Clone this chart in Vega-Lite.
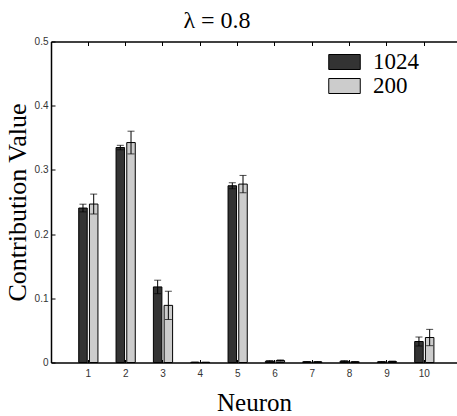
{
  "$schema": "https://vega.github.io/schema/vega-lite/v6.json",
  "autosize": {"type": "none"},
  "padding": {"left": 51, "top": 41.5, "right": 0, "bottom": 53.5},
  "width": 406,
  "height": 321,
  "title": {"text": "λ = 0.8", "font": "Liberation Serif", "fontSize": 24, "fontWeight": "normal", "color": "#000", "anchor": "middle", "dx": -37, "offset": 4},
  "data": {"values": [
    {"neuron": 1, "n": "1024", "value": 0.2406, "lo": 0.2346, "hi": 0.2466},
    {"neuron": 1, "n": "200", "value": 0.2468, "lo": 0.2313, "hi": 0.2623},
    {"neuron": 2, "n": "1024", "value": 0.3348, "lo": 0.3313, "hi": 0.3383},
    {"neuron": 2, "n": "200", "value": 0.3426, "lo": 0.3249, "hi": 0.3603},
    {"neuron": 3, "n": "1024", "value": 0.1177, "lo": 0.1072, "hi": 0.1282},
    {"neuron": 3, "n": "200", "value": 0.089, "lo": 0.067, "hi": 0.111},
    {"neuron": 4, "n": "1024", "value": 0.0003, "lo": 0.0, "hi": 0.0006},
    {"neuron": 4, "n": "200", "value": 0.0002, "lo": 0.0, "hi": 0.0004},
    {"neuron": 5, "n": "1024", "value": 0.2753, "lo": 0.2706, "hi": 0.28},
    {"neuron": 5, "n": "200", "value": 0.2779, "lo": 0.2644, "hi": 0.2914},
    {"neuron": 6, "n": "1024", "value": 0.002, "lo": 0.001, "hi": 0.003},
    {"neuron": 6, "n": "200", "value": 0.003, "lo": 0.002, "hi": 0.004},
    {"neuron": 7, "n": "1024", "value": 0.001, "lo": 0.0005, "hi": 0.0015},
    {"neuron": 7, "n": "200", "value": 0.001, "lo": 0.0005, "hi": 0.0015},
    {"neuron": 8, "n": "1024", "value": 0.002, "lo": 0.0012, "hi": 0.0028},
    {"neuron": 8, "n": "200", "value": 0.001, "lo": 0.0005, "hi": 0.0015},
    {"neuron": 9, "n": "1024", "value": 0.001, "lo": 0.0005, "hi": 0.0015},
    {"neuron": 9, "n": "200", "value": 0.0015, "lo": 0.0008, "hi": 0.0022},
    {"neuron": 10, "n": "1024", "value": 0.0327, "lo": 0.0257, "hi": 0.0397},
    {"neuron": 10, "n": "200", "value": 0.0389, "lo": 0.0262, "hi": 0.0516}
  ]},
  "layer": [
    {
      "mark": {"type": "bar", "stroke": "#000", "strokeWidth": 1},
      "encoding": {
        "x": {"field": "neuron", "type": "ordinal", "title": "Neuron",
              "scale": {"paddingInner": 0, "paddingOuter": 0.438, "align": 0.571},
              "axis": {"orient": "bottom", "titlePadding": 12}},
        "xOffset": {"field": "n", "type": "nominal", "sort": ["1024", "200"],
                    "scale": {"paddingInner": 0.206, "paddingOuter": 0.846}},
        "y": {"field": "value", "type": "quantitative", "title": "Contribution Value",
              "scale": {"domain": [0, 0.5], "nice": false, "zero": true},
              "axis": {"values": [0, 0.1, 0.2, 0.3, 0.4, 0.5], "format": "~g"}},
        "color": {"field": "n", "type": "nominal", "sort": ["1024", "200"],
                  "scale": {"domain": ["1024", "200"], "range": ["#333333", "#cccccc"]},
                  "legend": {"orient": "none", "legendX": 282, "legendY": 9, "title": null,
                             "symbolType": "M-2.1,-1H2.1V1H-2.1Z", "symbolSize": 225,
                             "symbolStrokeColor": "#000", "symbolStrokeWidth": 1, "symbolOpacity": 1,
                             "labelFont": "Liberation Serif", "labelFontSize": 23, "labelColor": "#000",
                             "labelOffset": 17, "rowPadding": 0, "padding": 0}}
      }
    },
    {
      "mark": {"type": "rule", "color": "#000", "strokeWidth": 1},
      "encoding": {
        "x": {"field": "neuron", "type": "ordinal", "title": null, "axis": {"orient": "top", "labels": false, "title": null}},
        "xOffset": {"field": "n", "type": "nominal", "sort": ["1024", "200"]},
        "y": {"field": "lo", "type": "quantitative", "title": "Contribution Value"},
        "y2": {"field": "hi"}
      }
    },
    {
      "mark": {"type": "tick", "color": "#000", "size": 7, "thickness": 1},
      "encoding": {
        "x": {"field": "neuron", "type": "ordinal", "axis": null},
        "xOffset": {"field": "n", "type": "nominal", "sort": ["1024", "200"]},
        "y": {"field": "hi", "type": "quantitative", "title": "Contribution Value"}
      }
    },
    {
      "mark": {"type": "tick", "color": "#000", "size": 7, "thickness": 1},
      "encoding": {
        "x": {"field": "neuron", "type": "ordinal", "axis": null},
        "xOffset": {"field": "n", "type": "nominal", "sort": ["1024", "200"]},
        "y": {"field": "lo", "type": "quantitative", "title": "Contribution Value"}
      }
    }
  ],
  "resolve": {"axis": {"x": "independent"}},
  "config": {
    "view": {"stroke": null},
    "axis": {"grid": false, "domainColor": "#000", "domainWidth": 1.5, "tickColor": "#000", "tickWidth": 1,
             "labelFont": "Liberation Sans", "labelFontSize": 10, "labelColor": "#333",
             "titleFont": "Liberation Serif", "titleFontWeight": "normal", "titleColor": "#000"},
    "axisX": {"tickSize": -3, "labelPadding": 9, "labelAngle": 0, "titleFontSize": 25},
    "axisTop": {"tickSize": -4},
    "axisY": {"tickSize": -4, "labelPadding": 7, "titleFontSize": 26, "titlePadding": 4}
  }
}
